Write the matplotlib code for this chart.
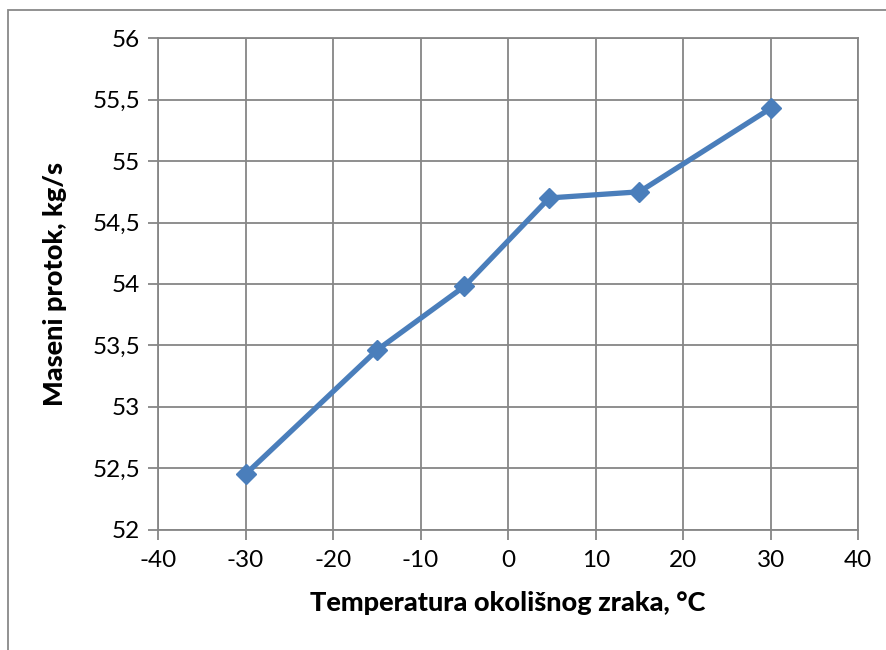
import matplotlib
matplotlib.use("Agg")
import matplotlib.pyplot as plt
from matplotlib.patches import Rectangle

temperature = [-30, -15, -5, 4.7, 15, 30]
mass_flow = [52.45, 53.46, 53.98, 54.70, 54.75, 55.43]
x_ticks = [-40, -30, -20, -10, 0, 10, 20, 30, 40]
y_ticks = [52, 52.5, 53, 53.5, 54, 54.5, 55, 55.5, 56]
y_tick_labels = ["52", "52,5", "53", "53,5", "54", "54,5", "55", "55,5", "56"]

plt.rcParams['font.family'] = ['Lato', 'DejaVu Sans']

W, H = 886, 650
fig = plt.figure(figsize=(W / 100, H / 100), dpi=100)
ax = fig.add_axes([158 / W, 1 - 529.5 / H, (858.3 - 158) / W, (529.5 - 38.3) / H])

# outer chart border
fig.patches.append(Rectangle((8 / W, -0.1), 1.2, 1 - 10 / H + 0.1, transform=fig.transFigure,
                             fill=False, edgecolor='#898989', linewidth=1.3))

grid_color = '#868686'
ax.plot(temperature, mass_flow, color='#4A7EBB', linewidth=3.8, marker='D',
        markersize=10, markerfacecolor='#4A7EBB', markeredgecolor='#4A7EBB', zorder=3,
        solid_capstyle='round')

ax.set_xlim(-40, 40)
ax.set_ylim(52, 56)
ax.set_xticks(x_ticks)
ax.set_xticklabels([str(t) for t in x_ticks])
ax.set_yticks(y_ticks)
ax.set_yticklabels(y_tick_labels)
ax.grid(True, color=grid_color, linewidth=1.3)
ax.set_axisbelow(True)
for s in ax.spines.values():
    s.set_color(grid_color)
    s.set_linewidth(1.3)
ax.tick_params(axis='both', length=7, width=1.3, color=grid_color, labelsize=17.5,
               labelcolor='black', direction='out')
ax.tick_params(axis='x', pad=8)
ax.tick_params(axis='y', pad=6)

ax.set_xlabel('Temperatura okolišnog zraka, °C', fontsize=19.5, fontweight='black', labelpad=14)
ax.set_ylabel('Maseni protok, kg/s', fontsize=19.5, fontweight='black', labelpad=18)

fig.savefig('out.png', dpi=100)
